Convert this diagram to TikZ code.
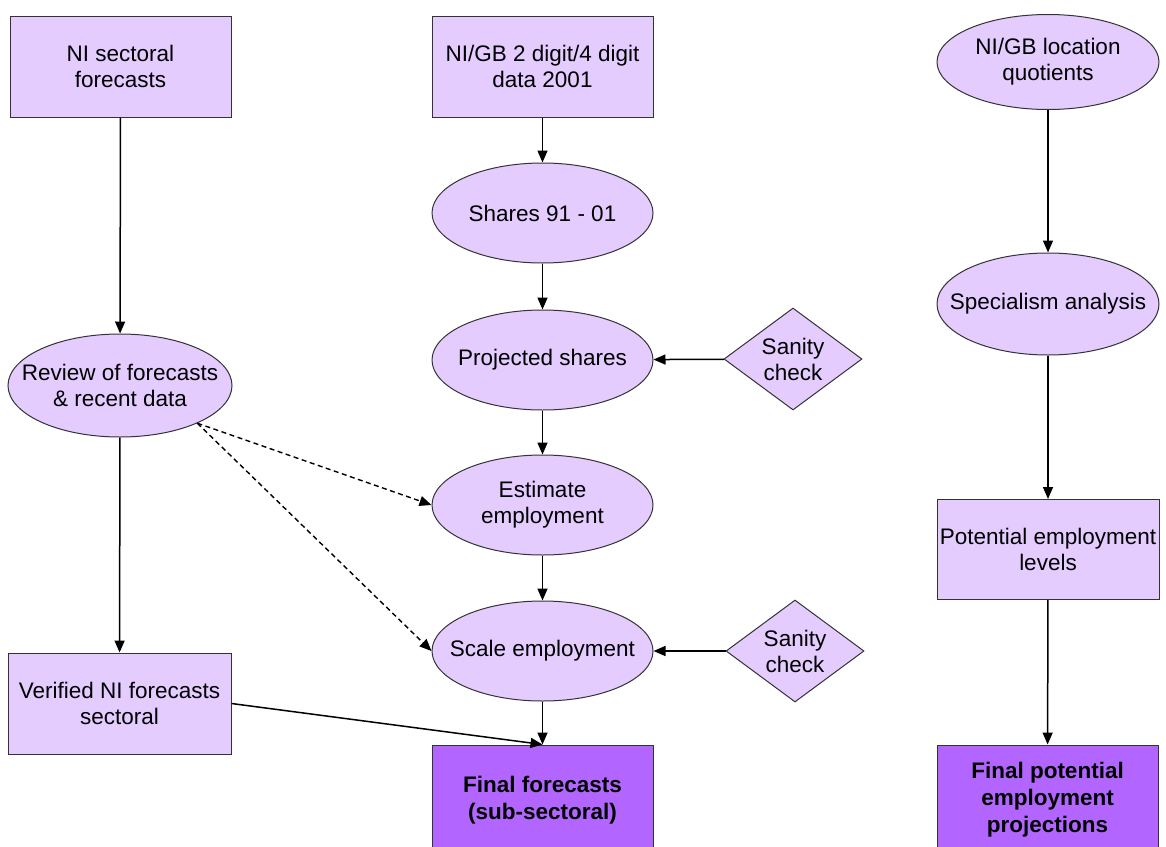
\documentclass[tikz,border=0pt]{standalone}
\usepackage{fontspec}
\setmainfont{Liberation Sans}
\usetikzlibrary{shapes.geometric,arrows.meta}
\definecolor{lightfill}{HTML}{E5CCFF}
\definecolor{darkfill}{HTML}{B366FF}
\begin{document}
\begin{tikzpicture}[x=1pt,y=-1pt,
  every node/.style={font=\fontsize{22.5}{26}\selectfont, align=center, inner sep=0pt},
  stepbox/.style={draw=black!80, line width=1pt, fill=lightfill, rectangle},
  finalbox/.style={draw=black!80, line width=1pt, fill=darkfill, rectangle, font=\fontsize{22.5}{27}\selectfont\bfseries},
  oval/.style={draw=black!80, line width=1pt, fill=lightfill, ellipse, inner xsep=-45pt, inner ysep=-20pt},
  check/.style={draw=black!80, line width=1pt, fill=lightfill, diamond, aspect=1.35, inner xsep=-15pt, inner ysep=-10pt},
  flow/.style={line width=1.5pt, -{Triangle[length=12pt,width=10pt]}},
  hint/.style={line width=1.4pt, dash pattern=on 5pt off 3.5pt, -{Triangle[length=12pt,width=10pt]}}]
\clip (0,0) rectangle (1166,846);
\fill[white] (0,0) rectangle (1166,846);

% left column
\node[stepbox, minimum width=221pt, minimum height=101pt] (nisect) at (120.5,66.5) {NI sectoral\\forecasts};
\node[oval, minimum width=224pt, minimum height=103pt] (review) at (120,385.5) {Review of forecasts\\\& recent data};
\node[stepbox, minimum width=223pt, minimum height=101pt] (verified) at (119.5,703.5) {Verified NI forecasts\\sectoral};

% centre column
\node[stepbox, minimum width=221pt, minimum height=101pt] (data) at (542.5,66.5) {NI/GB 2 digit/4 digit\\data 2001};
\node[oval, minimum width=221pt, minimum height=100pt] (shares) at (542.5,213) {Shares 91 - 01};
\node[oval, minimum width=221pt, minimum height=100pt] (projected) at (542.5,360) {Projected shares};
\node[oval, minimum width=221pt, minimum height=100pt] (estimate) at (542.5,505) {Estimate\\employment};
\node[oval, minimum width=221pt, minimum height=100pt] (scale) at (542.5,651) {Scale employment};
\node[finalbox, minimum width=221pt, minimum height=110pt] (final) at (542.5,800) {Final forecasts\\(sub-sectoral)};

% sanity checks
\node[check, minimum width=138pt, minimum height=102pt] (sanity1) at (793,359) {Sanity\\check};
\node[check, minimum width=138pt, minimum height=102pt] (sanity2) at (795,651) {Sanity\\check};

% right column
\node[oval, minimum width=222pt, minimum height=95pt] (quot) at (1048,62) {NI/GB location\\quotients};
\node[oval, minimum width=222pt, minimum height=102pt] (spec) at (1048,304) {Specialism analysis};
\node[stepbox, minimum width=222pt, minimum height=100pt] (potential) at (1048,549.5) {Potential employment\\levels};
\node[finalbox, minimum width=221pt, minimum height=110pt] (finalpot) at (1047.5,800) {Final potential\\employment\\projections};

% connectors
\draw[flow] (nisect) -- (review);
\draw[flow] (review) -- (verified);
\draw[flow] (data) -- (shares);
\draw[flow] (shares) -- (projected);
\draw[flow] (projected) -- (estimate);
\draw[flow] (estimate) -- (scale);
\draw[flow] (scale) -- (final);
\draw[flow] (sanity1) -- (projected);
\draw[flow] (sanity2) -- (scale);
\draw[flow] (quot) -- (spec);
\draw[flow] (spec) -- (potential);
\draw[flow] (potential) -- (finalpot);
\draw[flow] (verified.east) -- (final.north);
\draw[hint] (review.-26) -- (estimate.west);
\draw[hint] (review.-26) -- (scale.west);
\end{tikzpicture}
\end{document}
